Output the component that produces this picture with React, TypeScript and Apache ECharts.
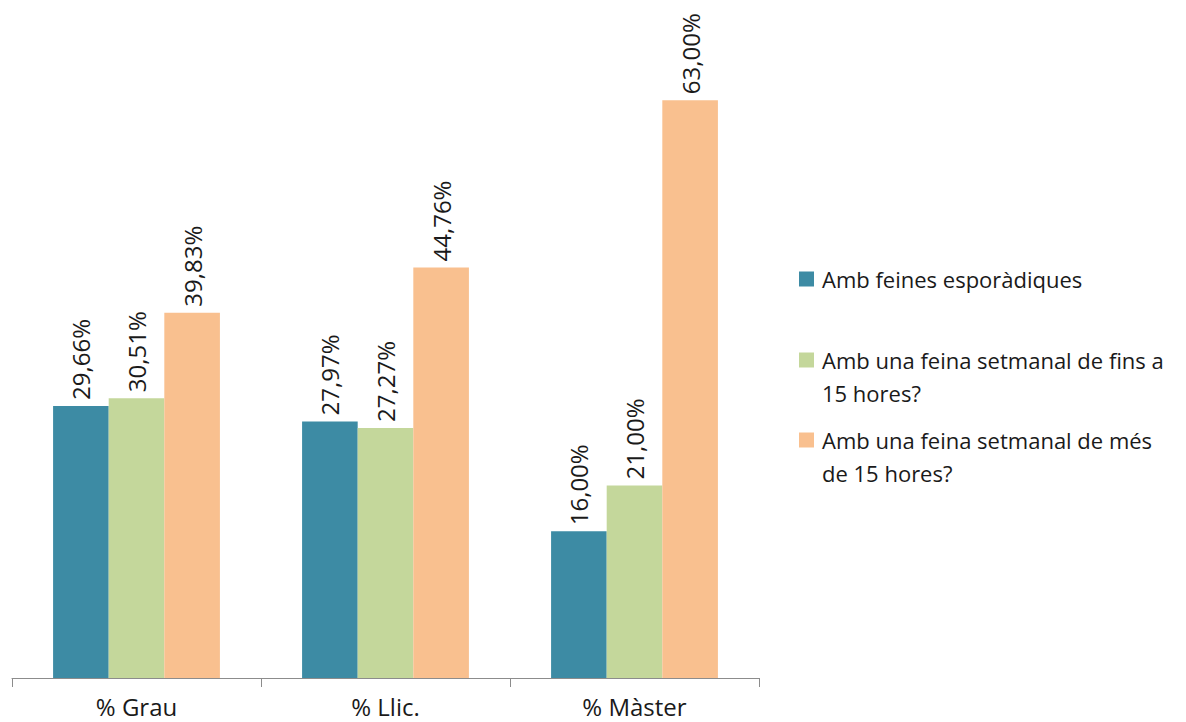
import React, { useEffect, useRef } from "react";
import * as echarts from "echarts";

const categories = ["% Grau", "% Llic.", "% Màster"];
const seriesNames = [
  "Amb feines esporàdiques",
  "Amb una feina setmanal de fins a 15 hores?",
  "Amb una feina setmanal de més de 15 hores?",
];
const legendFirstLines = [
  "Amb feines esporàdiques",
  "Amb una feina setmanal de fins a",
  "Amb una feina setmanal de més",
];
const legendSecondLines = ["", "15 hores?", "de 15 hores?"];
const esporadiques = [29.66, 27.97, 16.0];
const fins15 = [30.51, 27.27, 21.0];
const mes15 = [39.83, 44.76, 63.0];
const colors = ["#3d8ba4", "#c4d79b", "#f9c08f"];

const FONT = "'Open Sans', sans-serif";

export default function App() {
  const ref = useRef<HTMLDivElement>(null);
  useEffect(() => {
    if (!ref.current) return;
    const chart = echarts.init(ref.current, undefined, { renderer: "svg" });
    const values = [esporadiques, fins15, mes15];
    const legendCenters = [280, 361, 441];
    chart.setOption({
      animation: false,
      textStyle: { fontFamily: FONT },
      grid: { left: 12, right: 427, top: 36, bottom: 44, containLabel: false },
      xAxis: {
        type: "category",
        data: categories,
        boundaryGap: true,
        axisLine: { lineStyle: { color: "#8c8c8c", width: 1 } },
        axisTick: { show: true, length: 9, alignWithLabel: false, lineStyle: { color: "#8c8c8c" } },
        axisLabel: { color: "#1a1a1a", fontSize: 24, fontFamily: FONT, margin: 16 },
      },
      yAxis: {
        type: "value",
        min: 0,
        max: 70,
        show: false,
        splitLine: { show: false },
      },
      legend: seriesNames.map((name, i) => ({
        data: [name],
        left: 799,
        top: legendCenters[i] - 12,
        padding: 0,
        icon: "rect",
        itemWidth: 15,
        itemHeight: 15,
        formatter: () => legendFirstLines[i],
        textStyle: { color: "#1a1a1a", fontSize: 22, fontFamily: FONT, padding: [0, 0, 0, 3] },
        selectedMode: false,
      })),
      graphic: legendSecondLines
        .map((t, i) =>
          t
            ? {
                type: "text",
                left: 822,
                top: legendCenters[i] + 21,
                style: { text: t, fill: "#1a1a1a", fontSize: 22, fontFamily: FONT },
              }
            : null
        )
        .filter(Boolean),
      series: seriesNames.map((name, i) => ({
        name,
        type: "bar",
        data: values[i],
        barGap: "0%",
        barCategoryGap: "33%",
        itemStyle: { color: colors[i] },
        label: {
          show: true,
          position: "top",
          rotate: 90,
          align: "left",
          verticalAlign: "middle",
          distance: 6,
          color: "#1a1a1a",
          fontSize: 24,
          fontFamily: FONT,
          formatter: (p: any) => p.value.toFixed(2).replace(".", ",") + "%",
        },
      })),
    });
    return () => chart.dispose();
  }, []);
  return (
    <div
      ref={ref}
      style={{ position: "absolute", left: 0, top: 0, width: 1186, height: 722 }}
    />
  );
}
